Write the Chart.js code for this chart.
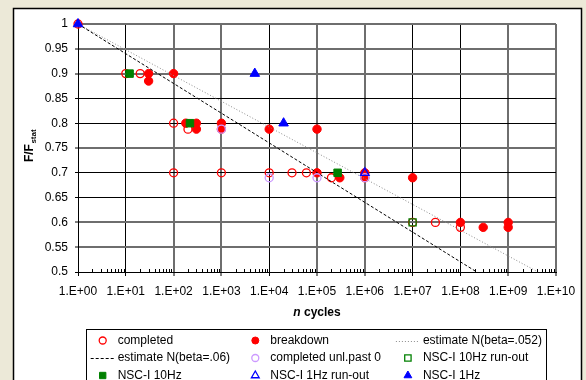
<!DOCTYPE html>
<html>
<head>
<meta charset="utf-8">
<script src="https://cdn.jsdelivr.net/npm/chart.js@4.4.0/dist/chart.umd.min.js"></script>
<style>
  html, body { margin: 0; padding: 0; background: #ECE9D8; }
  canvas { display: block; }
</style>
</head>
<body>
<canvas id="c" width="586" height="380"></canvas>
<script>
// values
var completedN = [1, 10, 20, 100, 200, 100, 1000, 10000, 30000, 60000, 200000, 10000000, 30000000, 100000000];
var completedF = [1, 0.9, 0.9, 0.8, 0.788, 0.7, 0.7, 0.7, 0.7, 0.7, 0.69, 0.6, 0.6, 0.59];

var breakdownN = [30, 30, 100, 180, 300, 300, 1000, 1000, 10000, 100000, 100000, 300000, 1000000, 1000000, 10000000, 100000000, 300000000, 1000000000, 1000000000];
var breakdownF = [0.9, 0.885, 0.9, 0.8, 0.8, 0.788, 0.8, 0.788, 0.788, 0.788, 0.7, 0.69, 0.7, 0.69, 0.69, 0.6, 0.59, 0.6, 0.59];

var est052N = [1, 4.2e9];
var est052F = [1, 0.5];
var est06N = [1, 2.2e8];
var est06F = [1, 0.5];

var unlN = [1000, 10000, 100000, 1000000];
var unlF = [0.788, 0.69, 0.69, 0.69];

var hz10RunN = [10000000];
var hz10RunF = [0.6];
var hz10N = [12, 220, 270000];
var hz10F = [0.9, 0.8, 0.7];

var hz1RunN = [1000000];
var hz1RunF = [0.7];
var hz1N = [1, 5000, 20000];
var hz1F = [1, 0.9, 0.8];

var xTicks = [1, 10, 100, 1000, 10000, 100000, 1000000, 10000000, 100000000, 1000000000, 10000000000];

function pts(xs, ys) {
    return xs.map(function (v, i) { return { x: v, y: ys[i] }; });
}

var RED = '#FF0000', GREEN = '#008000', BLUE = '#0000FF', VIOLET = '#CC99FF';
var NONE = 'rgba(0,0,0,0)';

var datasets = [
    { label: 'completed', data: pts(completedN, completedF), pointStyle: 'circle', pointRadius: 4,
      backgroundColor: NONE, borderColor: RED, borderWidth: 1.3 },
    { label: 'breakdown', data: pts(breakdownN, breakdownF), pointStyle: 'circle', pointRadius: 4.2,
      backgroundColor: RED, borderColor: RED, borderWidth: 1 },
    { label: 'estimate N(beta=.052)', data: pts(est052N, est052F), showLine: true, pointRadius: 0,
      borderColor: '#8c8c8c', borderWidth: 1, borderDash: [1, 2], isLine: true },
    { label: 'estimate N(beta=.06)', data: pts(est06N, est06F), showLine: true, pointRadius: 0,
      borderColor: '#000', borderWidth: 1, borderDash: [3, 2], isLine: true },
    { label: 'completed unl.past 0', data: pts(unlN, unlF), pointStyle: 'circle', pointRadius: 4,
      backgroundColor: NONE, borderColor: VIOLET, borderWidth: 1.3 },
    { label: 'NSC-I 10Hz run-out', data: pts(hz10RunN, hz10RunF), pointStyle: 'rect', pointRadius: 5,
      backgroundColor: NONE, borderColor: GREEN, borderWidth: 1.3 },
    { label: 'NSC-I 10Hz', data: pts(hz10N, hz10F), pointStyle: 'rect', pointRadius: 5.3,
      backgroundColor: GREEN, borderColor: GREEN, borderWidth: 1 },
    { label: 'NSC-I 1Hz run-out', data: pts(hz1RunN, hz1RunF), pointStyle: 'triangle', pointRadius: 5,
      backgroundColor: NONE, borderColor: BLUE, borderWidth: 1.3 },
    { label: 'NSC-I 1Hz', data: pts(hz1N, hz1F), pointStyle: 'triangle', pointRadius: 5.5,
      backgroundColor: BLUE, borderColor: BLUE, borderWidth: 1 }
];
// later series on top, like the spreadsheet; markers may sit on the plot edge
datasets.forEach(function (d, i) { d.order = datasets.length - i; d.clip = false; });

var FONT = '"Liberation Sans", Arial, sans-serif';

// the dark/grey look of the grid lines in the picture
var xBlack = [0, 1, 4, 7, 8];
var yBlack = [0.85, 0.8, 0.7, 0.65, 0.5];
function isBlackX(v) { return xBlack.indexOf(Math.round(Math.log10(v))) >= 0; }
function isBlackY(v) { return yBlack.some(function (b) { return Math.abs(b - v) < 1e-6; }); }

var framePlugin = {
    id: 'frame',
    beforeDraw: function (chart) {
        var ctx = chart.ctx;
        ctx.save();
        ctx.fillStyle = '#ECE9D8';
        ctx.fillRect(0, 0, chart.width, chart.height);
        ctx.fillStyle = '#fff';
        ctx.fillRect(13, 8, 569, 400);
        ctx.strokeStyle = '#000';
        ctx.lineWidth = 1.5;
        ctx.strokeRect(13.5, 8.5, 568, 400);
        ctx.restore();
    },
    afterDraw: function (chart) {
        var ctx = chart.ctx;
        var xs = chart.scales.x, area = chart.chartArea;
        ctx.save();
        // minor ticks on the x axis
        ctx.strokeStyle = '#000';
        ctx.lineWidth = 1;
        for (var d = 0; d < 10; d++) {
            for (var k = 2; k < 10; k++) {
                var px = Math.round(xs.getPixelForValue(k * Math.pow(10, d))) + 0.5;
                ctx.beginPath();
                ctx.moveTo(px, area.bottom);
                ctx.lineTo(px, area.bottom - 3);
                ctx.stroke();
            }
        }

        // axis titles
        ctx.fillStyle = '#000';
        ctx.textBaseline = 'middle';
        ctx.font = 'italic bold 12px ' + FONT;
        var w1 = ctx.measureText('n').width;
        ctx.font = 'bold 12px ' + FONT;
        var w2 = ctx.measureText(' cycles').width;
        var sx = (area.left + area.right) / 2 - (w1 + w2) / 2;
        ctx.textAlign = 'left';
        ctx.font = 'italic bold 12px ' + FONT;
        ctx.fillText('n', sx, 313);
        ctx.font = 'bold 12px ' + FONT;
        ctx.fillText(' cycles', sx + w1, 313);

        ctx.save();
        ctx.translate(30, 146);
        ctx.rotate(-Math.PI / 2);
        ctx.font = 'bold 12px ' + FONT;
        var a = ctx.measureText('F/F').width;
        ctx.font = 'bold 8px ' + FONT;
        var b = ctx.measureText('stat').width;
        ctx.font = 'bold 12px ' + FONT;
        ctx.fillText('F/F', -(a + b) / 2, 0);
        ctx.font = 'bold 8px ' + FONT;
        ctx.fillText('stat', -(a + b) / 2 + a + 0.5, 3.5);
        ctx.restore();

        // legend
        ctx.fillStyle = '#fff';
        ctx.fillRect(86, 329, 461, 60);
        ctx.strokeStyle = '#000';
        ctx.lineWidth = 1;
        ctx.strokeRect(86.5, 329.5, 460, 60);
        ctx.font = '12px ' + FONT;
        ctx.textAlign = 'left';
        ctx.textBaseline = 'middle';
        datasets.forEach(function (ds, i) {
            var col = i % 3, row = Math.floor(i / 3);
            var tx = 117.7 + col * 152.6;
            var ty = 340.5 + row * 17.5;
            if (ds.isLine) {
                ctx.save();
                ctx.strokeStyle = ds.borderColor;
                ctx.lineWidth = 1;
                ctx.setLineDash(ds.borderDash);
                ctx.beginPath();
                ctx.moveTo(tx - 27, Math.round(ty) + 0.5);
                ctx.lineTo(tx - 3, Math.round(ty) + 0.5);
                ctx.stroke();
                ctx.restore();
            } else {
                ctx.save();
                ctx.fillStyle = ds.backgroundColor;
                ctx.strokeStyle = ds.borderColor;
                ctx.lineWidth = ds.borderWidth;
                var r = 3.5;
                Chart.helpers.drawPoint(ctx, { pointStyle: ds.pointStyle, radius: ds.pointStyle === 'circle' ? r : r + 1, rotation: 0, borderWidth: ds.borderWidth }, tx - 15, ty);
                ctx.restore();
            }
            ctx.fillStyle = '#000';
            ctx.fillText(ds.label, tx, ty);
        });
        ctx.restore();
    }
};

new Chart(document.getElementById('c'), {
    type: 'scatter',
    data: { datasets: datasets },
    options: {
        responsive: false,
        animation: false,
        devicePixelRatio: 1,
        layout: { padding: { left: 0, right: 30, top: 24, bottom: 0 } },
        plugins: { legend: { display: false }, tooltip: { enabled: false } },
        scales: {
            x: {
                type: 'logarithmic',
                min: 1,
                max: 1e10,
                afterFit: function (s) { s.height = 108; },
                afterBuildTicks: function (s) {
                    s.ticks = xTicks.map(function (v) { return { value: v }; });
                },
                border: { color: '#000', width: 1 },
                grid: {
                    color: function (c) { return isBlackX(c.tick.value) ? '#000' : '#6e6e6e'; },
                    lineWidth: function (c) { return isBlackX(c.tick.value) ? 1 : 2; },
                    tickColor: '#000',
                    tickWidth: 1,
                    tickLength: 4
                },
                ticks: {
                    autoSkip: false,
                    maxRotation: 0,
                    padding: 8,
                    color: '#000',
                    font: { family: FONT, size: 12 },
                    callback: function (v) {
                        var e = Math.round(Math.log10(v));
                        return '1.E+' + (e < 10 ? '0' : '') + e;
                    }
                }
            },
            y: {
                min: 0.5,
                max: 1,
                afterFit: function (s) { s.width = 78; },
                border: { color: '#000', width: 1 },
                grid: {
                    color: function (c) { return isBlackY(c.tick.value) ? '#000' : '#6e6e6e'; },
                    lineWidth: function (c) { return isBlackY(c.tick.value) ? 1 : 2; },
                    tickColor: '#000',
                    tickWidth: 1,
                    tickLength: 3
                },
                ticks: {
                    stepSize: 0.05,
                    padding: 7,
                    color: '#000',
                    font: { family: FONT, size: 12 },
                    callback: function (v) { return String(Number(v.toFixed(2))); }
                }
            }
        }
    },
    plugins: [framePlugin]
});
</script>
</body>
</html>
